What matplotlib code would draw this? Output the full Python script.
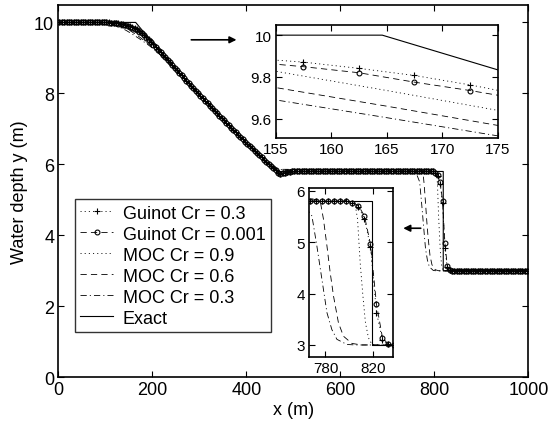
import numpy as np
import matplotlib
matplotlib.use('Agg')
import matplotlib.pyplot as plt

plt.rcParams['font.family'] = ['Liberation Sans', 'DejaVu Sans']
plt.rcParams['lines.scale_dashes'] = False

# ---- data ----
# Guinot scheme: cell centres every 5 m
gx = np.arange(2.5, 1000, 5)

g_start = np.full(20, 10.0)                        # 2.5 .. 97.5
g001_head = [9.998, 9.996, 9.992, 9.986, 9.977, 9.965, 9.95, 9.933, 9.915, 9.895,
             9.873, 9.849, 9.82, 9.775, 9.735, 9.69, 9.64, 9.575, 9.51, 9.44,
             9.37, 9.30, 9.23, 9.16, 9.09, 9.018, 8.946, 8.873]   # 102.5 .. 237.5
g03_head = [9.999, 9.998, 9.995, 9.99, 9.983, 9.972, 9.958, 9.942, 9.925, 9.907,
            9.89, 9.871, 9.841, 9.807, 9.762, 9.71, 9.65, 9.585, 9.52, 9.45,
            9.38, 9.308, 9.237, 9.166, 9.095, 9.022, 8.948, 8.874]
g_mid = [8.800, 8.726, 8.652, 8.578, 8.505, 8.432, 8.359, 8.286, 8.214, 8.142,
         8.071, 7.999, 7.928, 7.858, 7.788, 7.718, 7.648, 7.579, 7.510, 7.441,
         7.373, 7.304, 7.237, 7.169, 7.102, 7.035, 6.969, 6.903, 6.837, 6.771,
         6.706, 6.641, 6.577, 6.512, 6.448, 6.384, 6.321, 6.258, 6.195, 6.133,
         6.071, 6.015, 5.955, 5.895, 5.835]                # 242.5 .. 462.5
g_tail = [5.77, 5.735, 5.745, 5.765, 5.785, 5.795]    # 467.5 .. 492.5
g_plateau = np.full(61, 5.8)                           # 497.5 .. 797.5
g001_shock = [5.77, 5.71, 5.51, 4.96, 3.79, 3.14, 3.01]   # 802.5 .. 832.5
g03_shock = [5.76, 5.68, 5.46, 4.90, 3.63, 3.10, 3.01]
g_end = np.full(33, 3.0)                               # 837.5 .. 997.5

g001_y = np.concatenate([g_start, g001_head, g_mid, g_tail, g_plateau, g001_shock, g_end])
g03_y = np.concatenate([g_start, g03_head, g_mid, g_tail, g_plateau, g03_shock, g_end])

moc09_x = [0, 100, 120, 130, 140, 150, 155, 165, 175, 190, 200, 225, 250, 300, 350, 400,
           440, 455, 465, 475, 500, 795, 800, 804.7, 806.7, 808.9, 811.2, 813.3, 815.8,
           818.7, 825, 1000]
moc09_y = [10, 9.998, 9.985, 9.96, 9.925, 9.86, 9.827, 9.735, 9.64, 9.49, 9.38, 9.05,
           8.69, 7.962, 7.269, 6.607, 6.11, 5.94, 5.84, 5.82, 5.82, 5.82, 5.80, 5.74,
           5.45, 4.6, 3.95, 3.43, 3.14, 3.01, 3.0, 3.0]

moc06_x = [0, 90, 100, 110, 120, 130, 140, 150, 155, 165, 175, 190, 200, 225, 250, 275,
           300, 350, 400, 440, 455, 465, 475, 500, 760, 768, 773, 776, 778.3, 781.2,
           783.9, 786.7, 790.8, 795, 802, 810, 1000]
moc06_y = [10, 10, 9.995, 9.985, 9.965, 9.93, 9.875, 9.79, 9.749, 9.66, 9.568, 9.41,
           9.30, 9.02, 8.67, 8.31, 7.962, 7.269, 6.607, 6.11, 5.95, 5.87, 5.86, 5.86,
           5.86, 5.85, 5.82, 5.75, 5.45, 4.93, 4.41, 3.95, 3.43, 3.17, 3.03, 3.0, 3.0]

moc03_x = [0, 80, 90, 100, 110, 120, 130, 140, 145, 150, 155, 165, 175, 190, 200, 225,
           250, 275, 300, 350, 400, 440, 455, 465, 475, 500, 750, 758, 763, 768.7,
           772.8, 777, 781.2, 785.3, 789.5, 797.8, 805, 1000]
moc03_y = [10, 10, 9.995, 9.985, 9.96, 9.92, 9.87, 9.805, 9.77, 9.73, 9.69, 9.605,
           9.518, 9.38, 9.28, 8.99, 8.65, 8.30, 7.962, 7.269, 6.607, 6.11, 5.95, 5.87,
           5.85, 5.85, 5.85, 5.8, 5.7, 5.51, 4.93, 4.28, 3.63, 3.30, 3.11, 3.01, 3.0, 3.0]

ex_x = [0, 164.6, 175, 200, 225, 250, 275, 300, 325, 350, 375, 400, 425, 450, 464.7,
        819, 819, 1000]
ex_y = [10, 10, 9.834, 9.443, 9.063, 8.687, 8.323, 7.962, 7.613, 7.269, 6.936, 6.607,
        6.290, 5.977, 5.8, 5.8, 3.0, 3.0]

labels = ['Guinot Cr = 0.3', 'Guinot Cr = 0.001', 'MOC Cr = 0.9', 'MOC Cr = 0.6',
          'MOC Cr = 0.3', 'Exact']

dotted = (0, (0.8, 2.2))
dashed = (0, (4.5, 3.0))
dashdot = (0, (4.5, 2.2, 0.8, 2.2))


def draw(a):
    lw = 0.6
    a.plot(gx, g03_y, color='k', ls=dotted, lw=lw, marker='+', ms=4.5, mew=0.8,
           label=labels[0])
    a.plot(gx, g001_y, color='k', ls=dashed, lw=lw, marker='o', ms=3.5, mew=0.8,
           mfc='none', label=labels[1])
    a.plot(moc09_x, moc09_y, color='k', ls=dotted, lw=lw, label=labels[2])
    a.plot(moc06_x, moc06_y, color='k', ls=dashed, lw=lw, label=labels[3])
    a.plot(moc03_x, moc03_y, color='k', ls=dashdot, lw=lw, label=labels[4])
    a.plot(ex_x, ex_y, color='k', ls='-', lw=0.8, label=labels[5])


def style(a, size):
    for s in a.spines.values():
        s.set_linewidth(1.2)
    a.tick_params(direction='in', top=True, right=True, length=4, width=0.8,
                  labelsize=size, pad=3)


fig = plt.figure(figsize=(5.48, 4.27), dpi=100)

ax = fig.add_axes([0.1064, 0.1141, 0.8577, 0.8726])
draw(ax)
ax.set_xlim(0, 1000)
ax.set_ylim(0, 10.5)
ax.set_xticks(range(0, 1001, 200))
ax.set_yticks(range(0, 11, 2))
style(ax, 13)
ax.set_xlabel('x (m)', fontsize=13, labelpad=2)
ax.set_ylabel('Water depth y (m)', fontsize=13, labelpad=4)
leg = ax.legend(loc='lower left', bbox_to_anchor=(0.0355, 0.1216), borderaxespad=0,
                fontsize=13, frameon=True, fancybox=False, edgecolor='k',
                handlelength=1.8, handletextpad=0.55, labelspacing=0.22,
                borderpad=0.3, numpoints=1)
leg.get_frame().set_linewidth(1.0)

# arrows pointing to the insets
ax.annotate('', xy=(385, 9.51), xytext=(277, 9.51),
            arrowprops=dict(arrowstyle='-|>', color='k', lw=1.2, mutation_scale=10))
ax.annotate('', xy=(728, 4.2), xytext=(777, 4.2),
            arrowprops=dict(arrowstyle='-|>', color='k', lw=1.2, mutation_scale=10))

# upper inset
ax1 = fig.add_axes([0.5031, 0.6756, 0.4051, 0.2642])
draw(ax1)
ax1.set_xlim(155, 175)
ax1.set_ylim(9.51, 10.05)
ax1.set_xticks([155, 160, 165, 170, 175])
ax1.set_yticks([9.6, 9.8, 10])
ax1.set_yticklabels(['9.6', '9.8', '10'])
style(ax1, 11)

# lower inset
ax2 = fig.add_axes([0.5644, 0.1609, 0.1522, 0.3958])
draw(ax2)
ax2.set_xlim(766.5, 836)
ax2.set_ylim(2.76, 6.05)
ax2.set_xticks([780, 820])
ax2.set_yticks([3, 4, 5, 6])
style(ax2, 11)

fig.savefig('out.png', dpi=100)
